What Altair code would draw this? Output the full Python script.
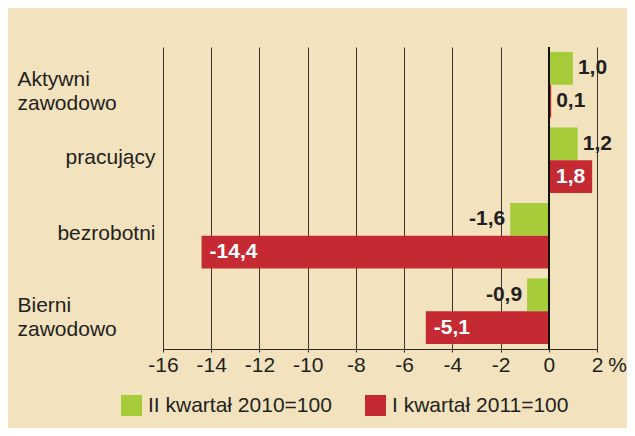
import altair as alt
import pandas as pd

categories = ["Aktywni zawodowo", "pracujący", "bezrobotni", "Bierni zawodowo"]
series = ["II kwartał 2010=100", "I kwartał 2011=100"]
q2_2010 = [1.0, 1.2, -1.6, -0.9]
q1_2011 = [0.1, 1.8, -14.4, -5.1]
x_ticks = [-16, -14, -12, -10, -8, -6, -4, -2, 0, 2]
colors = ["#a6cc3a", "#c52a33"]

rows = []
for s, vals in zip(series, [q2_2010, q1_2011]):
    for c, v in zip(categories, vals):
        rows.append({"cat": c, "series": s, "value": v,
                     "label": f"{v:.1f}".replace(".", ","),
                     "inside": bool(s == series[1] and abs(v) > 1)})
df = pd.DataFrame(rows)

FONT = "Liberation Sans"
TXT = "#231f20"

left_test = "datum.value == 'Aktywni zawodowo' || datum.value == 'Bierni zawodowo'"

y_enc = alt.Y(
    "cat:N", sort=categories,
    scale=alt.Scale(paddingInner=0.13, paddingOuter=0.065),
    axis=alt.Axis(
        title=None, domain=False, ticks=False, grid=False,
        labelFont=FONT, labelFontSize=21, labelColor=TXT,
        labelExpr="split(datum.label, ' ')", labelLineHeight=24,
        labelAlign={"condition": {"test": left_test, "value": "left"}, "value": "right"},
        labelPadding={"condition": {"test": left_test, "value": 146}, "value": 8},
        labelOffset={"condition": {"test": left_test, "value": -5}, "value": -2},
        labelBaseline="middle", labelLimit=300,
    ),
)
yoff_enc = alt.YOffset("series:N", sort=series,
                       scale=alt.Scale(domain=series, paddingInner=0, paddingOuter=0))
x_enc = alt.X(
    "value:Q", scale=alt.Scale(domain=[-16, 2], nice=False, zero=False),
    axis=alt.Axis(
        values=x_ticks, labelExpr="'' + datum.value", labelFlush=False,
        labelFont=FONT, labelFontSize=21, labelColor=TXT, labelPadding=2,
        tickSize=3, tickColor="#2e2824", domainColor="#2e2824", domainWidth=1.2,
        grid=True, gridColor="#3a332d", gridWidth=1,
        title="%", titleFont=FONT, titleFontSize=21, titleFontWeight="normal",
        titleColor=TXT, titleX=454, titleY=5, titleAlign="center",
        titleBaseline="top", titleAnchor="start",
    ),
)

base = alt.Chart(df).encode(y=y_enc, yOffset=yoff_enc)

bars = base.mark_bar().encode(
    x=x_enc,
    color=alt.Color(
        "series:N", sort=series,
        scale=alt.Scale(domain=series, range=colors),
        legend=alt.Legend(
            title=None, orient="none", legendX=-42, legendY=348,
            direction="horizontal", columns=2, symbolType="square",
            symbolSize=441, symbolStrokeWidth=0, symbolOpacity=1,
            labelFont=FONT, labelFontSize=21, labelColor=TXT,
            labelOffset=6, columnPadding=33, padding=0, labelLimit=400,
        ),
    ),
)

zero = alt.Chart(df).mark_rule(color="#111111", strokeWidth=1.2).encode(x=alt.datum(0))

def lab(filt, align, dx, color):
    return base.transform_filter(filt).mark_text(
        align=align, dx=dx, baseline="middle", font=FONT, fontSize=21,
        fontWeight="bold", color=color,
    ).encode(x="value:Q", text="label:N")

t1 = lab("!datum.inside && datum.value >= 0", "left", 5, TXT)
t2 = lab("!datum.inside && datum.value < 0", "right", -5, TXT)
t3 = lab("datum.inside && datum.value >= 0", "right", -7, "white")
t4 = lab("datum.inside && datum.value < 0", "left", 8, "white")

chart = alt.layer(bars, zero, t1, t2, t3, t4).properties(
    width=434, height=302,
    autosize=alt.AutoSizeParams(type="none"),
    padding={"left": 155, "top": 39, "right": 30, "bottom": 79},
).configure(font=FONT, background="#f2e2bd").configure_view(stroke=None)

chart.save("out.html", embed_options={"renderer": "svg", "actions": False})
